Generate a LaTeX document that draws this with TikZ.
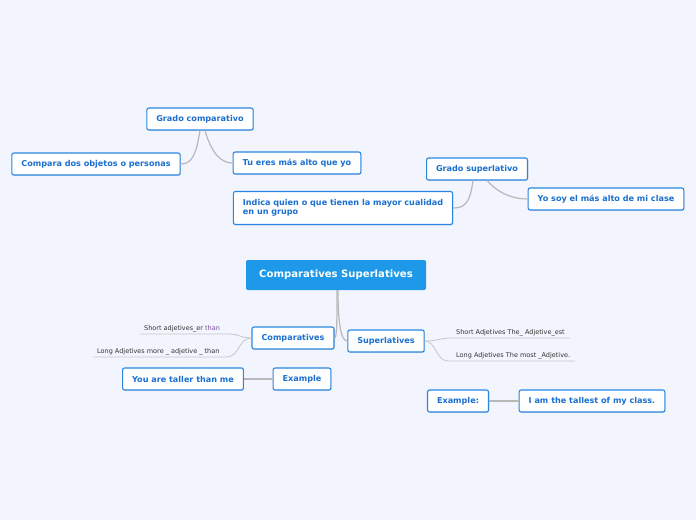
\documentclass[tikz,border=0pt]{standalone}
\usepackage{fontspec}
\setmainfont{DejaVu Sans}
\usetikzlibrary{positioning,shadows}
\definecolor{bgblue}{HTML}{F2F5FD}
\definecolor{boxline}{HTML}{2A86E0}
\definecolor{boxtext}{HTML}{1A6FD0}
\definecolor{rootfill}{HTML}{1E98E8}
\definecolor{linkgray}{HTML}{B8B8B8}
\definecolor{labtext}{HTML}{333333}
\definecolor{thanpurple}{HTML}{7B4FA0}

\begin{document}
\begin{tikzpicture}[x=1pt, y=-1pt,
  topic/.style={draw=boxline, line width=1.1pt, fill=white, rounded corners=2pt,
    text=boxtext, font=\fontsize{8.1}{9.3}\selectfont\bfseries, inner xsep=9.5pt,
    minimum height=22pt, drop shadow={shadow xshift=0.8pt, shadow yshift=-0.8pt, opacity=0.25}},
  central/.style={fill=rootfill, rounded corners=2pt, text=white,
    font=\fontsize{10.1}{12}\selectfont\bfseries, minimum width=180pt, minimum height=30pt},
  lab/.style={text=labtext, font=\fontsize{6.5}{8}\selectfont, inner xsep=4pt, inner ysep=2pt},
  link/.style={draw=linkgray, line width=1.2pt},
  underline/.style={draw=linkgray!80, line width=0.8pt}]
  \useasboundingbox[fill=bgblue] (0,0) rectangle (696,520);

  % Central topic
  \node[central] (root) at (336,275) {Comparatives Superlatives};

  % Grado comparativo branch
  \node[topic] (gcomp) at (200,119) {Grado comparativo};
  \node[topic] (compara) at (96,164) {Compara dos objetos o personas};
  \node[topic] (tueres) at (297,163) {Tu eres más alto que yo};
  \draw[link] (gcomp.south) .. controls (196,155) and (192,164) .. (compara.east);
  \draw[link] ([xshift=5pt]gcomp.south) .. controls (212,155) and (222,163) .. (tueres.west);

  % Grado superlativo branch
  \node[topic] (gsup) at (477,169) {Grado superlativo};
  \node[topic, align=left, minimum height=33pt] (indica) at (343,208)
    {Indica quien o que tienen la mayor cualidad\\en un grupo};
  \node[topic] (yosoy) at (606,199) {Yo soy el más alto de mi clase};
  \draw[link] ([xshift=-4pt]gsup.south) .. controls (470,203) and (465,208) .. (indica.east);
  \draw[link] ([xshift=10pt]gsup.south) .. controls (500,195) and (515,199) .. (yosoy.west);

  % Comparatives
  \node[topic] (comp) at (293,338) {Comparatives};
  \node[topic] (sup) at (386,341) {Superlatives};
  \draw[link] ([xshift=1pt]root.south) .. controls (337,320) and (337,338) .. (comp.east);
  \draw[link] ([xshift=2pt]root.south) .. controls (338,318) and (340,341) .. (sup.west);

  \node[lab, anchor=south west] (shortc) at (140,334) {Short adjetives\_er \textcolor{thanpurple}{than}};
  \node[lab, anchor=south west] (longc) at (93,357) {Long Adjetives more \_ adjetive \_ than};
  \draw[underline] (comp.west) .. controls (240,338) and (240,334) .. (228,334) -- (shortc.south west);
  \draw[underline] (comp.west) .. controls (238,338) and (240,357) .. (226,357) -- (longc.south west);

  % Superlatives
  \node[lab, anchor=south west] (shorts) at (452,338) {Short Adjetives The\_ Adjetive\_est};
  \node[lab, anchor=south west] (longs) at (452,361) {Long Adjetives The most \_Adjetive.};
  \draw[underline] (sup.east) .. controls (438,341) and (440,338) .. (452,338) -- (570,338);
  \draw[underline] (sup.east) .. controls (436,341) and (436,361) .. (448,361) -- (575,361);

  % Examples
  \node[topic] (ex) at (302,379) {Example};
  \node[topic] (taller) at (183,379) {You are taller than me};
  \draw[link] (ex.west) -- (taller.east);
  \node[topic] (ex2) at (458,401) {Example:};
  \node[topic] (tallest) at (592,401) {I am the tallest of my class.};
  \draw[link] (ex2.east) -- (tallest.west);
\end{tikzpicture}
\end{document}
